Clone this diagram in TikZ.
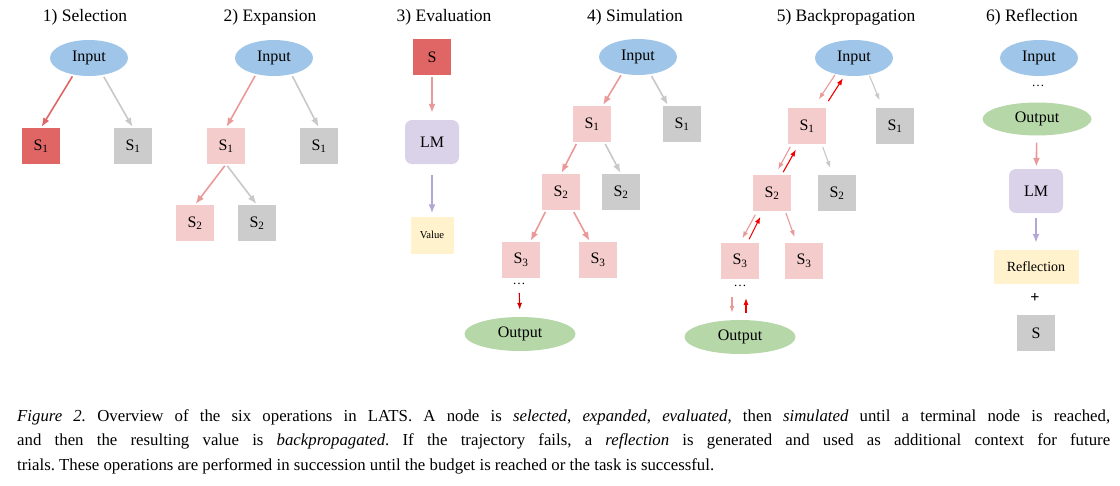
\documentclass[tikz,border=0pt]{standalone}
\usepackage{fontspec}
\setmainfont{Liberation Serif}
\usetikzlibrary{shapes.geometric,arrows.meta}
\definecolor{inblue}{HTML}{9FC5E8}
\definecolor{selred}{HTML}{E06666}
\definecolor{selpink}{HTML}{F4CCCC}
\definecolor{nogrey}{HTML}{CCCCCC}
\definecolor{lmpurple}{HTML}{D9D2E9}
\definecolor{valyellow}{HTML}{FFF2CC}
\definecolor{outgreen}{HTML}{B6D7A8}
\definecolor{arrpink}{HTML}{EA9999}
\definecolor{arrgrey}{HTML}{C8C8C8}
\definecolor{arrpurple}{HTML}{B4A7D6}
\definecolor{backred}{HTML}{F00000}
\definecolor{darkred}{HTML}{CC0000}
\newcommand{\nodefont}{\fontsize{16}{18}\selectfont}
\tikzset{box/.style={rectangle,minimum width=38pt,minimum height=36pt,inner sep=0pt,font=\nodefont},
	chosen/.style={box,fill=selred},
	kept/.style={box,fill=selpink},
	other/.style={box,fill=nogrey},
	inp/.style={ellipse,fill=inblue,minimum width=78pt,minimum height=36pt,inner sep=0pt,font=\nodefont},
	outp/.style={ellipse,fill=outgreen,minimum width=111pt,minimum height=34pt,inner sep=0pt,font=\nodefont},
	lmbox/.style={rectangle,rounded corners=7pt,fill=lmpurple,minimum width=54pt,minimum height=44pt,inner sep=0pt,font=\nodefont},
	note/.style={rectangle,fill=valyellow,inner sep=0pt},
	phase/.style={font=\fontsize{17.5}{20}\selectfont},
	gap/.style={inner sep=0pt,font=\fontsize{13}{14}\selectfont},
	link/.style={line width=1.6pt,shorten <=2pt,shorten >=1pt,-{Latex[length=9pt,width=7pt]}},
	back/.style={line width=1.1pt,-{Latex[length=7pt,width=5pt]}}}

\begin{document}
\begin{tikzpicture}[x=1pt,y=-1pt]
\useasboundingbox (0,0) rectangle (1120,485);
\node [phase] (t1) at (85,17) {1) Selection};
\node [phase] (t2) at (270,17) {2) Expansion};
\node [phase] (t3) at (444,17) {3) Evaluation};
\node [phase] (t4) at (635,17) {4) Simulation};
\node [phase] (t5) at (846,17) {5) Backpropagation};
\node [phase] (t6) at (1032,17) {6) Reflection};

\node [inp] (in1) at (89,58) {Input};
\node [chosen] (s1k1) at (41,146) {S\textsubscript{1}};
\node [other] (s1o1) at (133,146) {S\textsubscript{1}};
\draw [link,selred] (in1.227) -- (s1k1.north);
\draw [link,arrgrey] (in1.309) -- (s1o1.north);

\node [inp] (in2) at (274,58) {Input};
\node [kept] (s1k2) at (226,146) {S\textsubscript{1}};
\node [other] (s1o2) at (319,146) {S\textsubscript{1}};
\node [kept] (s2k2) at (195,223) {S\textsubscript{2}};
\node [other] (s2o2) at (257,223) {S\textsubscript{2}};
\draw [link,arrpink] (in2.222) -- (s1k2.north);
\draw [link,arrgrey] (in2.317) -- (s1o2.north);
\draw [link,arrpink] (s1k2.south) -- (s2k2.north);
\draw [link,arrgrey] (s1k2.south) -- (s2o2.north);

\node [chosen] (sel3) at (432,57) {S};
\node [lmbox] (lm3) at (432,142) {LM};
\node [note,minimum width=43pt,minimum height=37pt,font=\fontsize{10.7}{12}\selectfont] (val3) at (432,235) {Value};
\draw [link,arrpink,shorten >=7pt] (sel3) -- (lm3);
\draw [link,arrpurple,shorten <=11pt,shorten >=3pt] (lm3) -- (val3);

\node [inp] (in4) at (638,57) {Input};
\node [kept] (s1k4) at (592,124) {S\textsubscript{1}};
\node [other] (s1o4) at (682,124) {S\textsubscript{1}};
\node [kept] (s2k4) at (561,192) {S\textsubscript{2}};
\node [other] (s2o4) at (621,192) {S\textsubscript{2}};
\node [kept] (s3k4) at (521,260) {S\textsubscript{3}};
\node [kept] (s3o4) at (598,260) {S\textsubscript{3}};
\node [gap] (dots4) at (519,284) {\dots};
\node [outp] (out4) at (520,334) {Output};
\draw [link,arrpink] (in4.226) -- (s1k4.60);
\draw [link,arrgrey] (in4.306) -- (s1o4.127);
\draw [link,arrpink] (s1k4.231) -- (s2k4.north);
\draw [link,arrgrey] (s1k4.304) -- (s2o4.north);
\draw [link,arrpink] (s2k4.231) -- (s3k4.63);
\draw [link,arrpink] (s2k4.303) -- (s3o4.114);
\draw [back,darkred,shorten <=8pt,shorten >=7pt] (dots4.south) -- (out4.north);

\node [inp] (in5) at (854,58) {Input};
\node [kept] (s1k5) at (807,126) {S\textsubscript{1}};
\node [other] (s1o5) at (895,126) {S\textsubscript{1}};
\node [kept] (s2k5) at (772,193) {S\textsubscript{2}};
\node [other] (s2o5) at (837,193) {S\textsubscript{2}};
\node [kept] (s3k5) at (740,261) {S\textsubscript{3}};
\node [kept] (s3o5) at (804,261) {S\textsubscript{3}};
\node [gap] (dots5) at (740,286) {\dots};
\node [outp] (out5) at (740,337) {Output};
\draw [back,arrpink,shorten <=1pt,shorten >=10pt] (in5.221) -- (s1k5.71);
\draw [back,backred,shorten <=8pt,shorten >=3pt] (s1k5.47) -- (in5.242);
\draw [back,arrgrey,shorten <=1pt,shorten >=8pt] (in5.312) -- (s1o5.124);
\draw [back,arrpink,shorten <=3pt,shorten >=6pt] (s1k5.230) -- (s2k5.80);
\draw [back,backred,shorten <=3pt,shorten >=6pt] (s2k5.62) -- (s1k5.246);
\draw [back,arrgrey,shorten <=3pt,shorten >=7pt] (s1k5.309) -- (s2o5.103);
\draw [back,arrpink,shorten <=4pt,shorten >=5pt] (s2k5.231) -- (s3k5.north);
\draw [back,backred,shorten <=4pt,shorten >=6pt] (s3k5.68) -- (s2k5.244);
\draw [back,arrpink,shorten <=2pt,shorten >=6pt] (s2k5.306) -- (s3o5.112);
\draw [back,arrpink,shorten <=10pt,shorten >=7pt] ([xshift=-8pt]dots5.south) -- ([xshift=-8pt]out5.north);
\draw [back,backred,shorten <=7pt,shorten >=11pt] ([xshift=6pt]out5.north) -- ([xshift=6pt]dots5.south);

\node [inp] (in6) at (1039,58) {Input};
\node [gap] (dots6) at (1038,86) {\dots};
\node [outp,minimum width=109pt,minimum height=33pt] (out6) at (1037,119) {Output};
\node [lmbox] (lm6) at (1036,191) {LM};
\node [note,minimum width=85pt,minimum height=34pt,font=\fontsize{14}{16}\selectfont] (refl6) at (1036,267) {Reflection};
\node [font=\bfseries\nodefont] (plus6) at (1035,298) {+};
\node [other] (s6) at (1036,333) {S};
\draw [link,arrpink,shorten <=7pt,shorten >=2pt] (out6) -- (lm6);
\draw [link,arrpurple,shorten <=5pt,shorten >=7pt] (lm6) -- (refl6);

\node [anchor=north west,inner sep=0pt,text width=1093pt,align=justify,font=\fontsize{16.8}{24.7}\selectfont\frenchspacing] (cap) at (17,409) {\textit{Figure 2.} Overview of the six operations in LATS. A node is \textit{selected}, \textit{expanded}, \textit{evaluated}, then \textit{simulated} until a terminal node is reached,\linebreak and then the resulting value is \textit{backpropagated}. If the trajectory fails, a \textit{reflection} is generated and used as additional context for future\linebreak trials. These operations are performed in succession until the budget is reached or the task is successful.};
\end{tikzpicture}
\end{document}
